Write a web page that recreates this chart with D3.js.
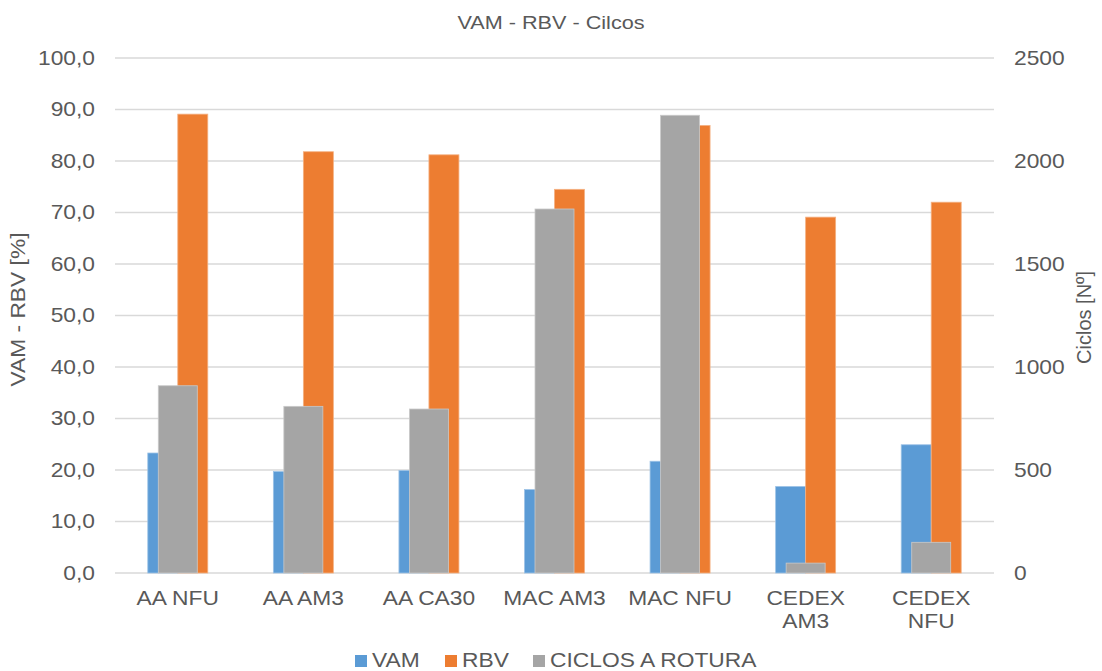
<!DOCTYPE html>
<html><head><meta charset="utf-8">
<script src="https://cdn.jsdelivr.net/npm/d3@7"></script>
<style>body{margin:0;background:#fff}svg{display:block;font-family:"Liberation Sans",Arial,sans-serif}</style>
</head><body><svg id="c" width="1102" height="671"></svg>
<script>
const categories = [["AA NFU"],["AA AM3"],["AA CA30"],["MAC AM3"],["MAC NFU"],["CEDEX","AM3"],["CEDEX","NFU"]];
const vam = [23.3, 19.7, 19.9, 16.2, 21.7, 16.8, 24.9];
const rbv = [89.1, 81.8, 81.2, 74.5, 86.9, 69.1, 72.0];
const ciclos = [909, 809, 796, 1767, 2222, 48, 149];
const leftTicks = [0,10,20,30,40,50,60,70,80,90,100];
const rightTicks = [0,500,1000,1500,2000,2500];
const seriesNames = ["VAM","RBV","CICLOS A ROTURA"];
const colors = ["#5B9BD5","#ED7D31","#A5A5A5"];

const svg = d3.select("#c");
const L = 115, R = 994, T = 58, B = 573;
const SX = 1.14, FS = 20, TC = "#595959";
const keys = categories.map((c,i)=>i);
const x = d3.scaleBand().domain(keys).range([L,R]).paddingInner(0).paddingOuter(0);
const yL = d3.scaleLinear().domain([0,100]).range([B,T]);
const yR = d3.scaleLinear().domain([0,2500]).range([B,T]);
const cw = x.bandwidth();
const bw = 30, gw = 39;

function txt(parent, px, py, str, opt) {
  opt = opt || {};
  const g = parent.append("g").attr("transform", `translate(${px},${py}) rotate(${opt.rot||0}) scale(${opt.sx||SX},1)`);
  g.append("text").attr("text-anchor", opt.anchor||"middle").attr("font-size", opt.fs||FS).attr("fill", TC).text(str);
  return g;
}

// grid
svg.append("g").selectAll("line").data(leftTicks).join("line")
  .attr("x1",L).attr("x2",R).attr("y1",d=>yL(d)).attr("y2",d=>yL(d))
  .attr("stroke","#d9d9d9").attr("stroke-width",1.3);

// axes labels
const fmt = d => d.toFixed(1).replace(".",",");
svg.append("g").attr("transform",`translate(${L},0)`)
  .call(d3.axisLeft(yL).tickValues(leftTicks).tickFormat(fmt).tickSize(0).tickPadding(20/SX))
  .call(g=>g.select(".domain").remove())
  .selectAll("text").attr("font-size",FS).attr("fill",TC).attr("font-family","Liberation Sans, Arial, sans-serif")
  .attr("transform",`scale(${SX},1)`);
svg.append("g").attr("transform",`translate(${R},0)`)
  .call(d3.axisRight(yR).tickValues(rightTicks).tickFormat(d3.format("d")).tickSize(0).tickPadding(20/SX))
  .call(g=>g.select(".domain").remove())
  .selectAll("text").attr("font-size",FS).attr("fill",TC).attr("font-family","Liberation Sans, Arial, sans-serif")
  .attr("transform",`scale(${SX},1)`);

// primary bars
svg.append("g").selectAll("rect").data(vam).join("rect")
  .attr("x",(d,i)=>x(i)+cw/2-bw).attr("width",bw)
  .attr("y",d=>yL(d)).attr("height",d=>B-yL(d))
  .attr("fill",colors[0]).attr("stroke","#9dc3e6").attr("stroke-width",0.8);
svg.append("g").selectAll("rect").data(rbv).join("rect")
  .attr("x",(d,i)=>x(i)+cw/2).attr("width",bw)
  .attr("y",d=>yL(d)).attr("height",d=>B-yL(d))
  .attr("fill",colors[1]).attr("stroke","#f4b183").attr("stroke-width",0.8);
// secondary bars
svg.append("g").selectAll("rect").data(ciclos).join("rect")
  .attr("x",(d,i)=>x(i)+cw/2-gw/2).attr("width",gw)
  .attr("y",d=>yR(d)).attr("height",d=>B-yR(d))
  .attr("fill",colors[2]).attr("stroke","#c9c9c9").attr("stroke-width",0.8);

// category labels
const cl = svg.append("g");
categories.forEach((lines,i)=>{
  lines.forEach((t,j)=>{ txt(cl, x(i)+cw/2, 605+j*23, t); });
});

// title
txt(svg, 551, 29, "VAM  - RBV - Cilcos", {fs:19});

// axis titles
txt(svg, 25, (T+B)/2 - 6, "VAM - RBV [%]", {rot:-90});
txt(svg, 1091, (T+B)/2 + 2, "Ciclos [Nº]", {rot:-90, sx:1.0});

// legend
const legX = [355, 445, 533];
const lg = svg.append("g");
seriesNames.forEach((n,i)=>{
  lg.append("rect").attr("x",legX[i]).attr("y",655).attr("width",12).attr("height",12).attr("fill",colors[i]);
  txt(lg, legX[i]+17, 667, n, {anchor:"start"});
});
</script></body></html>
